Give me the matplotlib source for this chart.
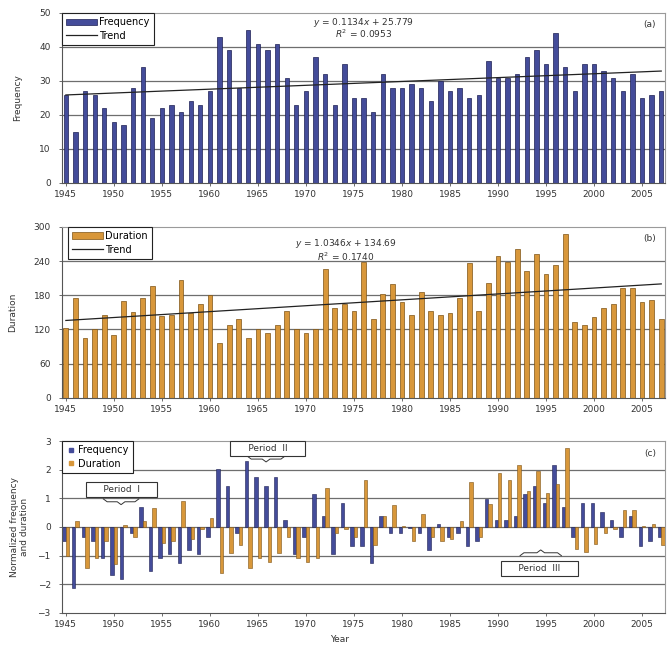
import numpy as np
import matplotlib.pyplot as plt
from matplotlib.patches import Patch
from matplotlib.lines import Line2D

years = list(range(1945, 2008))
freq = [26, 15, 27, 26, 22, 18, 17, 28, 34, 19,
        22, 23, 21, 24, 23, 27, 43, 39, 28, 45,
        41, 39, 41, 31, 23, 27, 37, 32, 23, 35,
        25, 25, 21, 32, 28, 28, 29, 28, 24, 30,
        27, 28, 25, 26, 36, 31, 31, 32, 37, 39,
        35, 44, 34, 27, 35, 35, 33, 31, 27, 32,
        25, 26, 27]
dur = [123, 176, 105, 120, 146, 111, 170, 151, 176, 196,
       143, 146, 206, 148, 164, 180, 97, 127, 139, 105,
       120, 114, 127, 152, 120, 113, 120, 226, 158, 164,
       152, 238, 139, 183, 200, 168, 145, 186, 152, 145,
       149, 176, 236, 152, 202, 249, 238, 261, 222, 252,
       218, 233, 288, 133, 128, 141, 158, 164, 193, 193,
       168, 172, 139]
# normalized values (panel c)
freq_norm = [-0.50, -2.13, -0.35, -0.50, -1.09, -1.69, -1.83, -0.20, 0.69,
             -1.54, -1.09, -0.94, -1.24, -0.79, -0.94, -0.35, 2.03, 1.43, -0.20,
             2.32, 1.73, 1.43, 1.73, 0.25, -0.94, -0.35, 1.14, 0.39, -0.94, 0.84,
             -0.65, -0.65, -1.24, 0.39, -0.20, -0.20, -0.05, -0.20, -0.79, 0.10,
             -0.35, -0.20, -0.65, -0.50, 0.99, 0.25, 0.25, 0.39, 1.14, 1.43, 0.84,
             2.18, 0.69, -0.35, 0.84, 0.84, 0.54, 0.25, -0.35, 0.39, -0.65, -0.50,
             -0.35]
dur_norm = [-1.01, 0.21, -1.42, -1.07, -0.48, -1.28, 0.07, -0.36, 0.21, 0.67,
            -0.55, -0.48, 0.89, -0.43, -0.07, 0.30, -1.60, -0.91, -0.64, -1.42,
            -1.07, -1.21, -0.91, -0.34, -1.07, -1.23, -1.07, 1.35, -0.20, -0.07,
            -0.34, 1.63, -0.64, 0.37, 0.76, 0.02, -0.50, 0.44, -0.34, -0.50,
            -0.41, 0.21, 1.58, -0.34, 0.80, 1.88, 1.63, 2.15, 1.26, 1.95, 1.17,
            1.51, 2.77, -0.78, -0.89, -0.59, -0.20, -0.07, 0.60, 0.60, 0.02, 0.12,
            -0.64]
trend_a = (0.1134, 25.779)
trend_b = (1.0346, 134.69)
# label, box centre x, box centre y, brace start, brace end, brace base y, brace direction
periods = [("Period  I", 1950.8, 1.32, 1948.9, 1952.6, 0.98, -1),
           ("Period  II", 1966.0, 2.75, 1963.9, 1967.8, 2.47, -1),
           ("Period  III", 1994.3, -1.45, 1992.3, 1996.6, -1.0, 1)]

blue = '#444c9a'
blue_edge = '#1c1f52'
orange = '#d8973a'
orange_edge = '#7d5315'
txtc = '#333333'

plt.rcParams['font.family'] = 'DejaVu Sans'
plt.rcParams['font.size'] = 6.5

fig = plt.figure(figsize=(6.72, 6.5), dpi=100)
ax1 = fig.add_axes([0.092, 0.7185, 0.898, 0.2615])
ax2 = fig.add_axes([0.092, 0.388, 0.898, 0.263])
ax3 = fig.add_axes([0.092, 0.057, 0.898, 0.2645])

x = np.array(years)
idx = np.arange(1, len(years) + 1)

def style(ax, yticks):
    ax.set_xlim(1944.58, 2007.42)
    ax.set_ylim(yticks[0], yticks[-1])
    ax.set_yticks(yticks)
    ax.set_xticks(range(1945, 2006, 5))
    for yv in yticks[1:-1]:
        ax.axhline(yv, color='#6e6e6e', lw=0.9, zorder=0)
    for s in ax.spines.values():
        s.set_color('#9a9a9a')
        s.set_linewidth(0.8)
    ax.spines['left'].set_color('#555555')
    ax.spines['bottom'].set_color('#555555')
    ax.tick_params(length=2, width=0.6, colors='#555555', labelcolor=txtc, labelsize=6.5, pad=3)
    ax.tick_params(axis='y', pad=6)

leg_kw = dict(loc='upper left', fancybox=False, edgecolor='#222222', framealpha=1,
              fontsize=7, borderpad=0.45, labelspacing=0.35, handletextpad=0.2, borderaxespad=0)

# (a) frequency
ax1.bar(x, freq, width=0.45, color=blue, edgecolor=blue_edge, linewidth=0.5, zorder=2)
ax1.plot(x, trend_a[0] * idx + trend_a[1], color='#222222', lw=0.9, zorder=3)
style(ax1, [0, 10, 20, 30, 40, 50])
ax1.set_ylabel('Frequency', color=txtc, fontsize=6.5, labelpad=12)
ax1.text(0.50, 0.985, r'$y$ = 0.1134$x$ + 25.779', transform=ax1.transAxes, ha='center', va='top', color=txtc)
ax1.text(0.50, 0.915, r'$R^2$ = 0.0953', transform=ax1.transAxes, ha='center', va='top', color=txtc)
ax1.text(0.985, 0.93, '(a)', transform=ax1.transAxes, ha='right', va='center', color=txtc)
lg = ax1.legend(handles=[Patch(facecolor=blue, edgecolor=blue_edge, lw=0.5, label='Frequency'),
                         Line2D([], [], color='#222222', lw=0.9, label='Trend')],
                bbox_to_anchor=(0.0, 1.0), handlelength=3.2, handleheight=0.7, **leg_kw)
lg.get_frame().set_linewidth(0.8)

# (b) duration
ax2.bar(x, dur, width=0.5, color=orange, edgecolor=orange_edge, linewidth=0.5, zorder=2)
ax2.plot(x, trend_b[0] * idx + trend_b[1], color='#222222', lw=0.9, zorder=3)
style(ax2, [0, 60, 120, 180, 240, 300])
ax2.set_ylabel('Duration', color=txtc, fontsize=6.5, labelpad=12)
ax2.text(0.47, 0.94, r'$y$ = 1.0346$x$ + 134.69', transform=ax2.transAxes, ha='center', va='top', color=txtc)
ax2.text(0.47, 0.86, r'$R^2$ = 0.1740', transform=ax2.transAxes, ha='center', va='top', color=txtc)
ax2.text(0.985, 0.93, '(b)', transform=ax2.transAxes, ha='right', va='center', color=txtc)
lg = ax2.legend(handles=[Patch(facecolor=orange, edgecolor=orange_edge, lw=0.5, label='Duration'),
                         Line2D([], [], color='#222222', lw=0.9, label='Trend')],
                bbox_to_anchor=(0.01, 1.0), handlelength=3.2, handleheight=0.7, **leg_kw)
lg.get_frame().set_linewidth(0.8)

# (c) normalized
w = 0.36
ax3.bar(x - w / 2, freq_norm, width=w, color=blue, edgecolor=blue_edge, linewidth=0.4, zorder=2)
ax3.bar(x + w / 2, dur_norm, width=w, color=orange, edgecolor=orange_edge, linewidth=0.4, zorder=2)
style(ax3, [-3, -2, -1, 0, 1, 2, 3])
ax3.set_ylabel('Normalized frequency\nand duration', color=txtc, fontsize=6.5, labelpad=6)
ax3.set_xlabel('Year', color=txtc, fontsize=6.5, labelpad=8)
ax3.xaxis.set_label_coords(0.46, -0.13)
ax3.text(0.985, 0.93, '(c)', transform=ax3.transAxes, ha='right', va='center', color=txtc)
lg = ax3.legend(handles=[Line2D([], [], marker='s', ls='', color=blue, ms=3.5, label='Frequency'),
                         Line2D([], [], marker='s', ls='', color=orange, ms=3.5, label='Duration')],
                bbox_to_anchor=(0.0, 1.0), handlelength=1.0, **leg_kw)
lg.get_frame().set_linewidth(0.8)

def brace(ax, x0, x1, y, d):
    # simple curly brace from x0 to x1; tip points up (d=1) or down (d=-1)
    xm = (x0 + x1) / 2
    h = 0.1
    xs = [x0, x0 + 0.4, xm - 0.4, xm, xm + 0.4, x1 - 0.4, x1]
    ys = [y, y + d * h, y + d * h, y + 2 * d * h, y + d * h, y + d * h, y]
    ax.plot(xs, ys, color='#333333', lw=0.7, zorder=4)

for name, cx, cy, b0, b1, by, dirn in periods:
    ax3.text(cx, cy, '     ' + name + '     ', ha='center', va='center', color=txtc, fontsize=6.5, zorder=5,
             bbox=dict(boxstyle='square,pad=0.35', fc='white', ec='#333333', lw=0.8))
    brace(ax3, b0, b1, by, dirn)

fig.savefig('out.png', dpi=100)
